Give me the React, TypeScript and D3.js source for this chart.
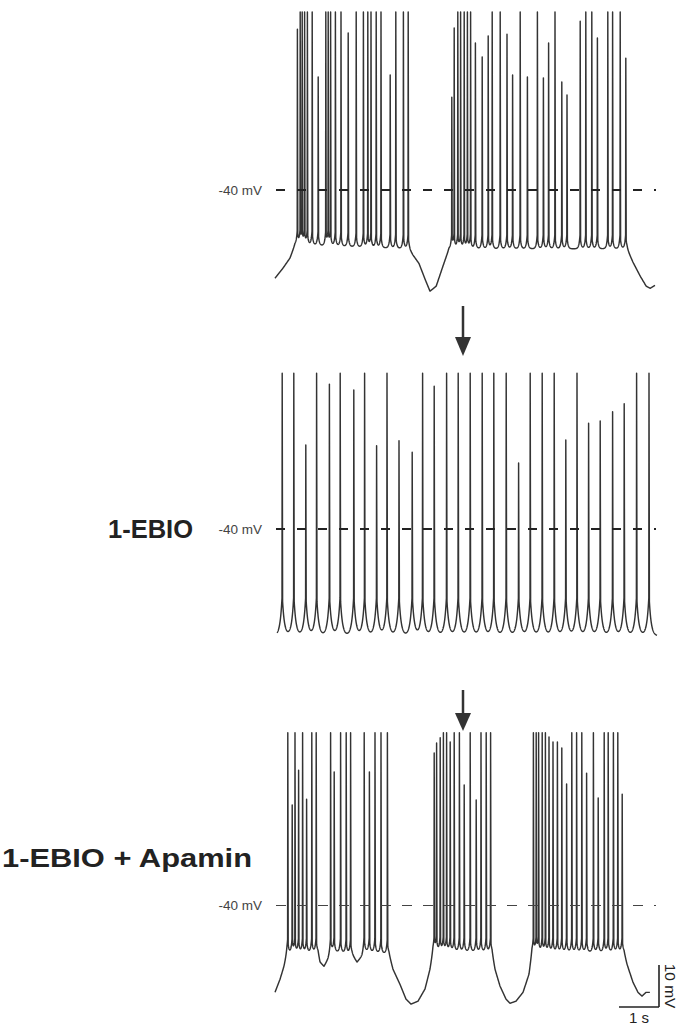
import React, { useMemo } from 'react'
import * as d3 from 'd3'

const W = 695
const H = 1028

// control trace: spike times (s) and peaks (mV)
const ctrlSpikeTimes = [
  0.56, 0.63, 0.68, 0.74, 0.81, 0.93, 1.08, 1.27, 1.33, 1.39, 1.51, 1.65, 1.83, 2.03, 2.21, 2.32, 2.4, 2.53,
  2.65, 2.88, 3.02, 3.21, 3.33,
  4.42, 4.48, 4.57, 4.64, 4.73, 4.81, 4.89, 5.01, 5.18, 5.33, 5.43, 5.63, 5.8, 5.94, 6.13, 6.31, 6.56, 6.71,
  6.84, 7.0, 7.17, 7.3, 7.63, 7.77, 7.92, 8.06, 8.32, 8.44, 8.63, 8.77,
]
const ctrlSpikePeaks = [
  -1.7, 2.4, 2.4, 2.4, 2.4, 2.4, -13.1, 2.4, 2.4, 2.4, 2.4, 2.4, -2.6, 2.4, 2.4, 2.4, 2.4, 2.4,
  2.4, -12.6, 2.4, 2.4, 2.4,
  -17.9, -1.4, 2.4, 2.4, 2.4, 2.4, 2.4, -5, -8.3, -3.3, 2.4, 2.4, -2.9, -12.6, 2.4, -13.1, 2.4, -13.3,
  -5, 2.4, -14.3, -17.4, 0.2, 2.4, 2.4, -3.8, 2.4, 2.4, 2.4, -8.6,
]
// slow membrane potential (s, mV)
const ctrlBaseline: [number, number][] = [
  [0, -61], [0.2, -58.6], [0.375, -56.2], [0.5, -53], [3.35, -54], [3.45, -55.5], [3.6, -57.5], [3.75, -61.2],
  [3.875, -64.1], [4.03, -62.9], [4.2, -58.1], [4.35, -54], [8.8, -54], [8.95, -57.2], [9.13, -60.5],
  [9.28, -62.9], [9.38, -63.4], [9.5, -62.7],
]

// 1-EBIO trace
const ebioSpikeTimes = [
  0.18, 0.47, 0.77, 1.04, 1.36, 1.63, 1.97, 2.24, 2.54, 2.8, 3.1, 3.43, 3.69, 3.98, 4.29, 4.58, 4.88, 5.18,
  5.47, 5.78, 6.09, 6.38, 6.68, 6.98, 7.27, 7.55, 7.84, 8.13, 8.44, 8.73, 9.04, 9.35,
]
const ebioSpikePeaks = [
  -2.9, -2.9, -20, -2.9, -5.5, -2.9, -6.9, -2.9, -20.2, -2.9, -19, -21.7, -2.9, -6, -2.9, -2.9, -2.9, -2.9,
  -2.9, -2.9, -24.3, -2.9, -2.9, -2.9, -18.8, -2.9, -14.8, -14.3, -12.1, -10.2, -2.9, -2.9,
]
const ebioBaseline: [number, number][] = [
  [0.05, -65.5], [9.55, -65.5],
]

// 1-EBIO + apamin trace
const apaSpikeTimes = [
  0.32, 0.43, 0.5, 0.59, 0.69, 0.79, 0.92, 1.03,
  1.39, 1.48, 1.64, 1.78, 1.89,
  2.23, 2.36, 2.5, 2.65, 2.81,
  3.98, 4.04, 4.13, 4.21, 4.29, 4.38, 4.48, 4.61, 4.73, 4.88, 5.03, 5.15, 5.28, 5.39,
  6.46, 6.53, 6.59, 6.68, 6.76, 6.85, 6.95, 7.06, 7.17, 7.29, 7.42, 7.54, 7.67, 7.79, 7.96, 8.08, 8.23, 8.33,
  8.46, 8.57, 8.68,
]
const apaSpikePeaks = [
  1, -16.2, 1, -7.9, 1, -14.8, 1, 1,
  1, -8.3, 1, 1, 1,
  1, -8.3, 1, 1, 1,
  -3.8, -1.4, -0.2, 1, 1, -1.2, 1, 1, -11.4, 1, -15, 1, 1, 1,
  1, 1, 1, 1, 1, 0, -1.2, -1.2, -2.6, -11.2, 1, 1, 1, -8.6, 1, -14.5, 1, 1,
  1, 1, -13.6,
]
const apaBaseline: [number, number][] = [
  [0, -60.8], [0.125, -57.7], [0.225, -54.6], [0.3, -51.5], [1.075, -51.2], [1.125, -53.6], [1.225, -54.6],
  [1.325, -52.9], [1.4, -51], [1.925, -51.7], [2.05, -53.6], [2.175, -52.2], [2.225, -51], [2.85, -51.7],
  [2.95, -55.3], [3.125, -58.9], [3.275, -62.4], [3.4, -63.6], [3.575, -62.9], [3.75, -60], [3.875, -55.3],
  [3.95, -51], [5.425, -51.2], [5.5, -55.3], [5.625, -59.3], [5.775, -62.4], [5.875, -63.4], [6.025, -62.9],
  [6.2, -60.8], [6.35, -56.5], [6.425, -51.2], [8.725, -51.2], [8.8, -54.1], [8.95, -58.4], [9.075, -60.8],
  [9.175, -61.7], [9.275, -60.8], [9.375, -60.8],
]

const x = d3.scaleLinear().domain([0, 9.5]).range([275, 655])

function buildTrace(
  times: number[],
  peaks: number[],
  baseline: [number, number][],
  pre: number,
  post: number,
  tau: number,
) {
  const base = d3
    .scaleLinear()
    .domain(baseline.map((d) => d[0]))
    .range(baseline.map((d) => d[1]))
    .clamp(true)
  const t0 = baseline[0][0]
  const t1 = baseline[baseline.length - 1][0]
  const pts: [number, number][] = []
  const vAt = (t: number) => {
    const i = d3.bisectLeft(times, t)
    let v = base(t)
    if (i < times.length) v += pre * Math.exp(-(times[i] - t) / tau)
    if (i > 0) v += post * Math.exp(-(t - times[i - 1]) / tau)
    return v
  }
  for (let t = t0; t <= t1; t += 0.004) {
    const i = d3.bisectLeft(times, t)
    if (i < times.length && times[i] - t < 0.006) continue
    if (i > 0 && t - times[i - 1] < 0.01) continue
    pts.push([t, vAt(t)])
  }
  times.forEach((ts, k) => {
    pts.push([ts - 0.005, vAt(ts - 0.005)])
    pts.push([ts, peaks[k]])
    pts.push([ts + 0.01, vAt(ts + 0.01)])
  })
  pts.sort((a, b) => a[0] - b[0])
  return pts
}

const panels = [
  { y40: 190, times: ctrlSpikeTimes, peaks: ctrlSpikePeaks, baseline: ctrlBaseline, pre: 4, post: 3, tau: 0.025, bold: true },
  { y40: 529, times: ebioSpikeTimes, peaks: ebioSpikePeaks, baseline: ebioBaseline, pre: 10, post: 10, tau: 0.05, bold: true },
  { y40: 905, times: apaSpikeTimes, peaks: apaSpikePeaks, baseline: apaBaseline, pre: 4, post: 3, tau: 0.025, bold: false },
]

const font = "'Liberation Sans', Arial, Helvetica, sans-serif"

export default function App() {
  const traces = useMemo(
    () =>
      panels.map((p) => {
        const y = d3.scaleLinear().domain([-40, 0]).range([p.y40, p.y40 - 168])
        const pts = buildTrace(p.times, p.peaks, p.baseline, p.pre, p.post, p.tau)
        const line = d3
          .line<[number, number]>()
          .x((d) => x(d[0]))
          .y((d) => y(d[1]))
        return { d: line(pts) || '', y }
      }),
    [],
  )

  // scale bar: 1 s by 10 mV
  const yBar = traces[2].y
  const barX = x(9.6)
  const barY = yBar(-64.3)
  const barTop = yBar(-54.3)
  const barLeft = barX - (x(1) - x(0))

  return (
    <svg
      width={W}
      height={H}
      style={{ position: 'absolute', left: 0, top: 0, background: '#fff' }}
      fontFamily={font}
    >
      {traces.map((tr, i) => (
        <g key={i}>
          <path d={tr.d} fill="none" stroke="#333" strokeWidth={1.45} strokeLinejoin="round" />
          <line
            x1={276}
            x2={656}
            y1={tr.y(-40) + (panels[i].bold ? 0 : 0.5)}
            y2={tr.y(-40) + (panels[i].bold ? 0 : 0.5)}
            stroke={panels[i].bold ? '#222' : '#444'}
            strokeWidth={panels[i].bold ? 2 : 1}
            strokeDasharray={panels[i].bold ? '9 12' : '10 11'}
          />
          <text x={262} y={tr.y(-40) + 4.5} textAnchor="end" fontSize={13.5} fill="#444">
            -40 mV
          </text>
        </g>
      ))}

      {/* arrows between panels */}
      <line x1={463} x2={463} y1={306} y2={340} stroke="#333" strokeWidth={2.5} />
      <path d="M455,337 L471,337 L463,356 Z" fill="#333" />
      <line x1={463} x2={463} y1={690} y2={716} stroke="#333" strokeWidth={2.5} />
      <path d="M455,713 L471,713 L463,731 Z" fill="#333" />

      <text x={108} y={538} fontSize={25.5} fontWeight="bold" fill="#222">
        1-EBIO
      </text>
      <text
        x={2}
        y={867}
        fontSize={26}
        fontWeight="bold"
        fill="#222"
        textLength={250}
        lengthAdjust="spacingAndGlyphs"
      >
        1-EBIO + Apamin
      </text>

      <line x1={barLeft} x2={barX} y1={barY} y2={barY} stroke="#222" strokeWidth={1.6} />
      <line x1={barX} x2={barX} y1={barY} y2={barTop} stroke="#222" strokeWidth={1.6} />
      <text x={(barX + barLeft) / 2} y={barY + 16} textAnchor="middle" fontSize={15} fill="#222">
        1 s
      </text>
      <text
        transform={`translate(${barX + 6},${(barY + barTop) / 2}) rotate(90)`}
        textAnchor="middle"
        fontSize={15.5}
        fill="#222"
      >
        10 mV
      </text>
    </svg>
  )
}
